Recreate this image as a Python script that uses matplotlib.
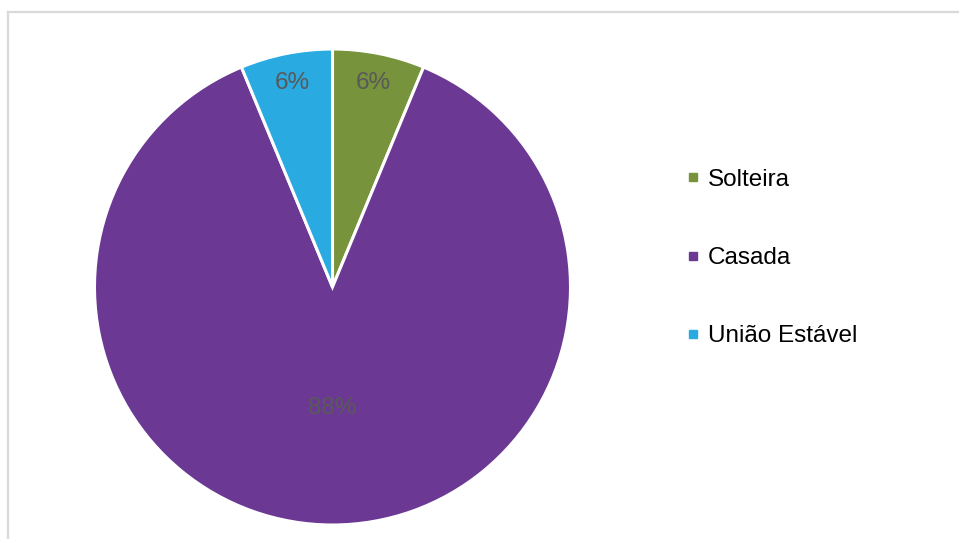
import numpy as np
import matplotlib
matplotlib.use('Agg')
import matplotlib.pyplot as plt
from matplotlib.lines import Line2D

plt.rcParams['font.family'] = ['Liberation Sans', 'DejaVu Sans']

# estado civil das participantes
categorias = ['Solteira', 'Casada', 'União Estável']
valores = [1, 14, 1]
cores = ['#77933C', '#6B3894', '#29ABE2']
dist_rotulo = [0.875, 0.51, 0.875]

W, H = 959, 539
fig = plt.figure(figsize=(W / 100, H / 100), dpi=100)

# borda cinza clara (apenas topo e esquerda visíveis)
fig.add_artist(Line2D([8 / W, 1], [1 - 11.5 / H, 1 - 11.5 / H], color='#d9d9d9', lw=1.6))
fig.add_artist(Line2D([8 / W, 8 / W], [0, 1 - 11.5 / H], color='#d9d9d9', lw=1.6))

cx, cy, r = 332.5, 287, 238
ax = fig.add_axes([(cx - r) / W, (H - cy - r) / H, 2 * r / W, 2 * r / H])

wedges, _ = ax.pie(valores, colors=cores, startangle=90, counterclock=False,
                   wedgeprops=dict(edgecolor='white', linewidth=2.2))
ax.set_xlim(-1, 1)
ax.set_ylim(-1, 1)
ax.set_aspect('equal')
ax.axis('off')

total = sum(valores)
for w, v, d in zip(wedges, valores, dist_rotulo):
    ang = np.deg2rad((w.theta1 + w.theta2) / 2)
    ax.text(d * np.cos(ang), d * np.sin(ang), f'{100 * v / total:.0f}%',
            ha='center', va='center', fontsize=17.5, color='#595959')

handles = [Line2D([], [], marker='s', linestyle='', markersize=6, color=c) for c in cores]
fig.legend(handles, categorias, loc='center left', bbox_to_anchor=(675 / W, 1 - 258 / H),
           frameon=False, fontsize=17.5, labelspacing=2.32, handlelength=0.5,
           handletextpad=0.35, borderpad=0)

fig.savefig('out.png', dpi=100)
